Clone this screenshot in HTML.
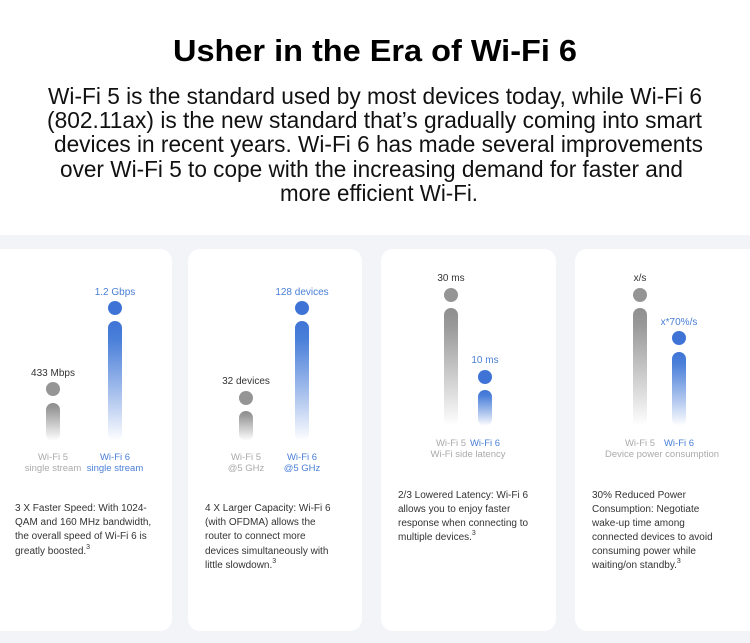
<!DOCTYPE html>
<html><head><meta charset="utf-8"><style>
html,body{margin:0;padding:0;background:#fff;}
svg{display:block;}
text{font-family:"Liberation Sans",Arial,sans-serif;}
</style></head><body>
<svg width="750" height="643" viewBox="0 0 750 643" xmlns="http://www.w3.org/2000/svg">
<defs>
<linearGradient id="gb" x1="0" y1="0" x2="0" y2="1"><stop offset="0" stop-color="#3f74d6"/><stop offset="0.15" stop-color="#4a7fd9"/><stop offset="1" stop-color="#3f74d6" stop-opacity="0"/></linearGradient>
<linearGradient id="gg" x1="0" y1="0" x2="0" y2="1"><stop offset="0" stop-color="#8f8f8f"/><stop offset="0.15" stop-color="#999"/><stop offset="1" stop-color="#9a9a9a" stop-opacity="0"/></linearGradient>
</defs>
<rect x="0" y="0" width="750" height="235" fill="#fff"/>
<rect x="0" y="235" width="750" height="408" fill="#f3f4f7"/>
<text x="375" y="61" text-anchor="middle" font-size="31" font-weight="bold" fill="#000" textLength="404" lengthAdjust="spacingAndGlyphs">Usher in the Era of Wi-Fi 6</text>
<g font-size="23" fill="#111">
<text x="48" y="104" textLength="654" lengthAdjust="spacingAndGlyphs">Wi-Fi 5 is the standard used by most devices today, while Wi-Fi 6</text>
<text x="47" y="128" textLength="655" lengthAdjust="spacingAndGlyphs">(802.11ax) is the new standard that’s gradually coming into smart</text>
<text x="54" y="152" textLength="649" lengthAdjust="spacingAndGlyphs">devices in recent years. Wi-Fi 6 has made several improvements</text>
<text x="60" y="177" textLength="623" lengthAdjust="spacingAndGlyphs">over Wi-Fi 5 to cope with the increasing demand for faster and</text>
<text x="280" y="201" textLength="198" lengthAdjust="spacingAndGlyphs">more efficient Wi-Fi.</text>
</g>
<g fill="#fff">
<rect x="-10" y="249" width="182" height="382" rx="12"/>
<rect x="188" y="249" width="174" height="382" rx="12"/>
<rect x="381" y="249" width="175" height="382" rx="12"/>
<rect x="575" y="249" width="185" height="382" rx="12"/>
</g>
<!-- card1 -->
<text x="115" y="295" text-anchor="middle" font-size="10" fill="#4a7fd6">1.2 Gbps</text>
<circle cx="115" cy="308" r="7" fill="#3f74d6"/>
<rect x="108" y="321" width="14" height="120" rx="7" fill="url(#gb)"/>
<text x="53" y="376" text-anchor="middle" font-size="10" fill="#333">433 Mbps</text>
<circle cx="53" cy="389" r="7" fill="#959595"/>
<rect x="46" y="403" width="14" height="38" rx="7" fill="url(#gg)"/>
<g font-size="9.5" text-anchor="middle">
<text x="53" y="460" fill="#aaa">Wi-Fi 5</text><text x="53" y="471" fill="#aaa">single stream</text>
<text x="115" y="460" fill="#4a7fd6">Wi-Fi 6</text><text x="115" y="471" fill="#4a7fd6">single stream</text>
</g>
<!-- card2 -->
<text x="302" y="295" text-anchor="middle" font-size="10" fill="#4a7fd6">128 devices</text>
<circle cx="302" cy="308" r="7" fill="#3f74d6"/>
<rect x="295" y="321" width="14" height="120" rx="7" fill="url(#gb)"/>
<text x="246" y="384" text-anchor="middle" font-size="10" fill="#333">32 devices</text>
<circle cx="246" cy="398" r="7" fill="#959595"/>
<rect x="239" y="411" width="14" height="30" rx="7" fill="url(#gg)"/>
<g font-size="9.5" text-anchor="middle">
<text x="246" y="460" fill="#aaa">Wi-Fi 5</text><text x="246" y="471" fill="#aaa">@5 GHz</text>
<text x="302" y="460" fill="#4a7fd6">Wi-Fi 6</text><text x="302" y="471" fill="#4a7fd6">@5 GHz</text>
</g>
<!-- card3 -->
<text x="451" y="281" text-anchor="middle" font-size="10" fill="#333">30 ms</text>
<circle cx="451" cy="295" r="7" fill="#959595"/>
<rect x="444" y="308" width="14" height="118" rx="7" fill="url(#gg)"/>
<text x="485" y="363" text-anchor="middle" font-size="10" fill="#4a7fd6">10 ms</text>
<circle cx="485" cy="377" r="7" fill="#3f74d6"/>
<rect x="478" y="390" width="14" height="36" rx="7" fill="url(#gb)"/>
<g font-size="9.5" text-anchor="middle">
<text x="451" y="446" fill="#aaa">Wi-Fi 5</text>
<text x="485" y="446" fill="#4a7fd6">Wi-Fi 6</text>
<text x="468" y="457" fill="#aaa">Wi-Fi side latency</text>
</g>
<!-- card4 -->
<text x="640" y="281" text-anchor="middle" font-size="10" fill="#333">x/s</text>
<circle cx="640" cy="295" r="7" fill="#959595"/>
<rect x="633" y="308" width="14" height="118" rx="7" fill="url(#gg)"/>
<text x="679" y="325" text-anchor="middle" font-size="10" fill="#4a7fd6">x*70%/s</text>
<circle cx="679" cy="338" r="7" fill="#3f74d6"/>
<rect x="672" y="352" width="14" height="74" rx="7" fill="url(#gb)"/>
<g font-size="9.5" text-anchor="middle">
<text x="640" y="446" fill="#aaa">Wi-Fi 5</text>
<text x="679" y="446" fill="#4a7fd6">Wi-Fi 6</text>
<text x="662" y="457" fill="#aaa">Device power consumption</text>
</g>
<!-- descriptions -->
<g font-size="10" fill="#333">
<text x="15" y="511">3 X Faster Speed: With 1024-</text>
<text x="15" y="525">QAM and 160 MHz bandwidth,</text>
<text x="15" y="539">the overall speed of Wi-Fi 6 is</text>
<text x="15" y="554">greatly boosted.<tspan font-size="7" dy="-5">3</tspan></text>
<text x="205" y="511">4 X Larger Capacity: Wi-Fi 6</text>
<text x="205" y="525">(with OFDMA) allows the</text>
<text x="205" y="539">router to connect more</text>
<text x="205" y="554">devices simultaneously with</text>
<text x="205" y="568">little slowdown.<tspan font-size="7" dy="-5">3</tspan></text>
<text x="398" y="498">2/3 Lowered Latency: Wi-Fi 6</text>
<text x="398" y="512">allows you to enjoy faster</text>
<text x="398" y="526">response when connecting to</text>
<text x="398" y="540">multiple devices.<tspan font-size="7" dy="-5">3</tspan></text>
<text x="592" y="498">30% Reduced Power</text>
<text x="592" y="512">Consumption: Negotiate</text>
<text x="592" y="526">wake-up time among</text>
<text x="592" y="540">connected devices to avoid</text>
<text x="592" y="554">consuming power while</text>
<text x="592" y="568">waiting/on standby.<tspan font-size="7" dy="-5">3</tspan></text>
</g>
</svg>
</body></html>
